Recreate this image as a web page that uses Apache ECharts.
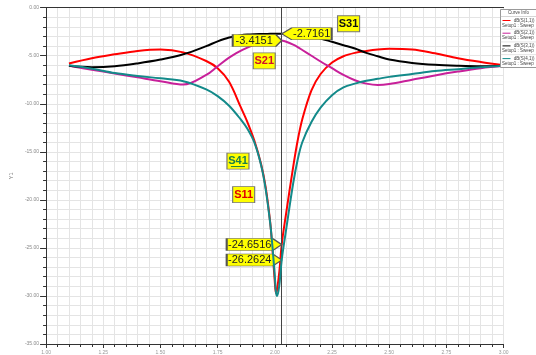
<!DOCTYPE html>
<html>
<head>
<meta charset="utf-8">
<script src="https://cdn.jsdelivr.net/npm/echarts@6/dist/echarts.min.js"></script>
<style>
html,body{margin:0;padding:0;background:#fff;}
#chart{width:536px;height:355px;}
</style>
</head>
<body>
<div id="chart"></div>
<script>
// Sweep frequencies (GHz)
const freqGHz = [1.10,1.20,1.30,1.40,1.50,1.60,1.70,1.75,1.80,1.85,1.88,1.91,1.94,1.96,1.98,1.99,2.00,2.005,2.01,2.02,2.03,2.05,2.08,2.10,2.12,2.16,2.20,2.25,2.30,2.35,2.40,2.45,2.50,2.60,2.70,2.80,2.90,3.00];

// dB(S(1,1))
const s11 = [-5.80,-5.25,-4.85,-4.50,-4.35,-4.65,-5.55,-6.30,-7.70,-10.3,-11.9,-13.8,-16.3,-18.7,-22.4,-25.3,-28.6,-29.7,-29.3,-27.4,-24.6516,-21.3,-16.6,-13.8,-11.6,-8.6,-6.9,-5.7,-5.05,-4.7,-4.5,-4.35,-4.28,-4.35,-4.75,-5.25,-5.65,-6.0];
// dB(S(2,1))
const s21 = [-6.05,-6.45,-6.85,-7.25,-7.65,-8.00,-7.00,-6.10,-5.20,-4.50,-4.15,-3.85,-3.60,-3.45,-3.35,-3.32,-3.30,-3.31,-3.32,-3.36,-3.4151,-3.55,-3.85,-4.10,-4.40,-5.00,-5.60,-6.30,-7.00,-7.55,-7.90,-8.05,-7.95,-7.50,-7.05,-6.65,-6.30,-6.05];
// dB(S(3,1))
const s31 = [-6.05,-6.20,-6.10,-5.80,-5.40,-4.85,-4.00,-3.50,-3.10,-2.88,-2.80,-2.76,-2.74,-2.73,-2.72,-2.72,-2.715,-2.715,-2.715,-2.715,-2.7161,-2.74,-2.78,-2.82,-2.86,-2.98,-3.20,-3.55,-3.90,-4.25,-4.70,-5.05,-5.40,-5.75,-5.95,-6.05,-6.10,-6.05];
// dB(S(4,1))
const s41 = [-6.00,-6.35,-6.80,-7.10,-7.35,-7.65,-8.50,-9.20,-10.2,-11.6,-12.6,-14.0,-16.4,-18.9,-22.5,-25.0,-28.0,-29.6,-30.0,-28.8,-26.2624,-23.0,-18.3,-15.8,-14.0,-11.9,-10.4,-9.1,-8.3,-7.9,-7.6,-7.4,-7.2,-6.9,-6.6,-6.4,-6.2,-6.05];

const curveNames = ['dB(S(1,1))','dB(S(2,1))','dB(S(3,1))','dB(S(4,1))'];
const setupName = 'Setup1 : Sweep';
const tagNames = ['S11','S21','S31','S41'];
const markerFreq = 2.03;

const curveValues = [s11, s21, s31, s41];
const curveColors = ['#ff0000', '#c8209a', '#000000', '#138a8a'];
const tagColors = ['#e00000', '#d0102a', '#111111', '#1d7f46'];
// where each curve tag sits, in axis units
const tagAt = [[1.8637,-19.45],[1.9537,-5.53],[2.3223,-1.675],[1.8388,-15.96]];
// marker readout boxes: side of the marker line, box width, arrow length
const readout = [
  {side:'left', w:55, arrow:9},
  {side:'left', w:49, arrow:6},
  {side:'right', w:50, arrow:10},
  {side:'left', w:55, arrow:9}
];

const narrow = "'Liberation Sans Narrow','Liberation Sans',Arial,sans-serif";
const sans = "'Liberation Sans',Arial,sans-serif";

function pairs(vals){ return freqGHz.map((f,i)=>[f, vals[i]]); }

function readoutPoint(i){
  const v = curveValues[i][freqGHz.indexOf(markerFreq)];
  const r = readout[i];
  const h = 12;
  let path, off, lblOff;
  if (r.side === 'left') {
    path = `path://M0,0L${r.w-r.arrow},0L${r.w},${h/2}L${r.w-r.arrow},${h}L0,${h}Z`;
    off = [-r.w/2, 0]; lblOff = [-r.arrow/2, 0];
  } else {
    path = `path://M0,${h/2}L${r.arrow},0L${r.w},0L${r.w},${h}L${r.arrow},${h}Z`;
    off = [r.w/2, 0]; lblOff = [r.arrow/2, 0];
  }
  return {
    coord:[markerFreq, v], value:v,
    symbol:path, symbolSize:[r.w, h], symbolOffset:off,
    itemStyle:{color:'#ffff00', borderColor:'#555', borderWidth:1},
    label:{show:true, position:'inside', offset:lblOff, formatter: v.toFixed(4),
      color:'#222', fontSize:11, fontFamily:narrow}
  };
}

function tagPoint(i){
  return {
    coord:tagAt[i], value:tagNames[i],
    symbol:'rect', symbolSize:[22,16],
    itemStyle:{color:'#ffff00', borderColor:'#777', borderWidth:1},
    label:{show:true, position:'inside', formatter: tagNames[i],
      color:tagColors[i], fontSize:11, fontWeight:'bold', fontFamily:narrow}
  };
}

const series = curveValues.map((vals, i) => ({
  name: curveNames[i],
  type:'line',
  data: pairs(vals),
  xAxisIndex:0,
  showSymbol:false,
  smooth:0.35,
  lineStyle:{color:curveColors[i], width:2},
  itemStyle:{color:curveColors[i]},
  z: 2 + i,
  animation:false,
  markPoint:{
    silent:true, animation:false,
    data:[tagPoint(i), readoutPoint(i)]
  },
  markLine: i === 3 ? {
    silent:true, symbol:'none', animation:false,
    label:{show:false},
    lineStyle:{color:'#444', width:1, type:'solid'},
    data:[{xAxis:markerFreq}]
  } : undefined
}));

const gridGray = '#e4e4e4';

const option = {
  backgroundColor:'#ffffff',
  animation:false,
  grid:{left:37, right:32.4, top:7.7, bottom:6.7, containLabel:false},
  xAxis:[{
    type:'value', min:1, max:3, interval:0.25,
    axisLine:{show:true, onZero:false, lineStyle:{color:'#333', width:1}},
    axisTick:{show:true, length:4, lineStyle:{color:'#333'}},
    minorTick:{show:true, splitNumber:5, length:3, lineStyle:{color:'#333'}},
    splitLine:{show:true, lineStyle:{color:gridGray, width:1}},
    minorSplitLine:{show:true, lineStyle:{color:gridGray, width:1}},
    axisLabel:{fontSize:5, color:'#999', margin:6, fontFamily:sans,
      formatter:v=>v.toFixed(2)}
  },{
    type:'value', min:1, max:3, position:'top',
    axisLine:{show:true, onZero:false, lineStyle:{color:'#333', width:1}},
    axisTick:{show:false}, axisLabel:{show:false}, splitLine:{show:false}
  }],
  yAxis:{
    type:'value', min:-35, max:0, interval:5,
    name:'Y1', nameLocation:'middle', nameGap:26,
    nameTextStyle:{fontSize:5.5, color:'#777', fontFamily:sans},
    axisLine:{show:true, onZero:false, lineStyle:{color:'#333', width:1}},
    axisTick:{show:true, length:6, lineStyle:{color:'#333'}},
    minorTick:{show:true, splitNumber:5, length:3, lineStyle:{color:'#333'}},
    splitLine:{show:true, lineStyle:{color:gridGray, width:1}},
    minorSplitLine:{show:true, lineStyle:{color:gridGray, width:1}},
    axisLabel:{fontSize:5, color:'#888', margin:7, fontFamily:sans,
      formatter:v=>v.toFixed(2)}
  },
  series: series
};

const chart = echarts.init(document.getElementById('chart'), null, {renderer:'canvas'});
chart.setOption(option);

// Curve info box and the underline under the S41 tag
const box = {x:500.5, y:9.5, w:36, h:58};
const g = [];
g.push({type:'rect', shape:{x:box.x, y:box.y, width:box.w, height:box.h},
  style:{fill:'#fff', stroke:'#999', lineWidth:1}, z:50});
g.push({type:'text', x:box.x + box.w/2, y:box.y + 3.5, z:51,
  style:{text:'Curve Info', fontSize:4.5, fill:'#444', align:'center', verticalAlign:'middle', fontFamily:sans}});
g.push({type:'line', shape:{x1:box.x, y1:box.y+7, x2:box.x+box.w, y2:box.y+7},
  style:{stroke:'#bbb', lineWidth:0.6}, z:51});
curveNames.forEach((nm, i) => {
  const y0 = box.y + 7 + i*12.7;
  g.push({type:'line', shape:{x1:box.x+2, y1:y0+4, x2:box.x+10, y2:y0+4},
    style:{stroke:curveColors[i], lineWidth:1}, z:51});
  g.push({type:'text', x:box.x+box.w-2, y:y0+4, z:51,
    style:{text:nm, fontSize:4.5, fill:'#444', align:'right', verticalAlign:'middle', fontFamily:sans}});
  g.push({type:'text', x:box.x+1.5, y:y0+9, z:51,
    style:{text:setupName, fontSize:4.5, fill:'#444', align:'left', verticalAlign:'middle', fontFamily:sans}});
  if (i < 3) g.push({type:'line', shape:{x1:box.x, y1:y0+12.7, x2:box.x+box.w, y2:y0+12.7},
    style:{stroke:'#ccc', lineWidth:0.5}, z:51});
});
const p41 = chart.convertToPixel({xAxisIndex:0, yAxisIndex:0}, tagAt[3]);
g.push({type:'line', shape:{x1:p41[0]-7, y1:p41[1]+5.5, x2:p41[0]+7, y2:p41[1]+5.5},
  style:{stroke:tagColors[3], lineWidth:1}, z:60});
chart.setOption({graphic:g});
</script>
</body>
</html>
